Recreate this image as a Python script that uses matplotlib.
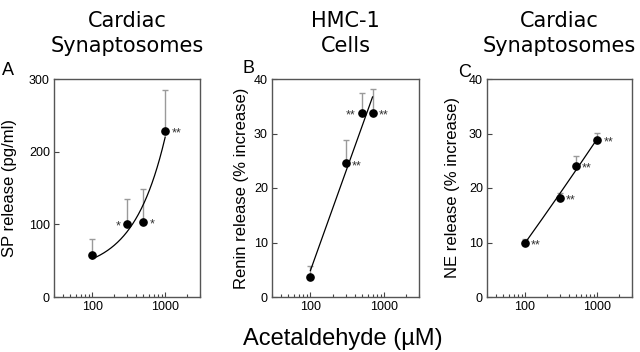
import numpy as np
import matplotlib
matplotlib.use("Agg")
import matplotlib.pyplot as plt
from matplotlib.ticker import LogLocator, NullFormatter, FixedLocator, FixedFormatter

plt.rcParams['font.family'] = ['Liberation Sans', 'DejaVu Sans']

# ---- data ----
conc_A = [100, 300, 500, 1000]
sp_release = [57.8, 100, 102.8, 228.4]
sp_err = [22, 35, 46, 57]
stars_A = ['', '*', '*', '**']
side_A = ['r', 'l', 'r', 'r']

conc_B = [100, 300, 500, 700]
renin_release = [3.7, 24.5, 33.7, 33.7]
renin_err = [1.9, 4.3, 3.8, 4.4]
stars_B = ['', '**', '**', '**']
side_B = ['r', 'r', 'l', 'r']

conc_C = [100, 300, 500, 1000]
ne_release = [10.0, 18.1, 24.1, 28.8]
ne_err = [0.7, 1.0, 1.7, 1.3]
stars_C = ['**', '**', '**', '**']
side_C = ['r', 'r', 'r', 'r']

titles = ["Cardiac\nSynaptosomes", "HMC-1\nCells", "Cardiac\nSynaptosomes"]
letters = ["A", "B", "C"]
ylabels = ["SP release (pg/ml)", "Renin release (% increase)", "NE release (% increase)"]
ylims = [(0, 300), (0, 40), (0, 40)]
yticks = [[0, 100, 200, 300], [0, 10, 20, 30, 40], [0, 10, 20, 30, 40]]
xlabel = "Acetaldehyde (\u00b5M)"

W, H = 640, 352
fig = plt.figure(figsize=(6.4, 3.52), dpi=100)

# axes positions in pixels (left, right)
ax_px = [(54, 200), (272, 419), (487, 632)]
top_px, bot_px = 79, 297
ylabel_x = [-0.253, -0.156, -0.186]

datasets = [
    (conc_A, sp_release, sp_err, stars_A, side_A, 'linx'),
    (conc_B, renin_release, renin_err, stars_B, side_B, 'logl'),
    (conc_C, ne_release, ne_err, stars_C, side_C, 'logq'),
]

spine_col = '#555555'
for i, (l, r) in enumerate(ax_px):
    ax = fig.add_axes([l / W, 1 - bot_px / H, (r - l) / W, (bot_px - top_px) / H])
    x, y, e, st, sd, fit = datasets[i]
    x = np.array(x, float); y = np.array(y, float)
    ax.set_xscale('log')
    ax.set_xlim(30, 3000)
    ax.set_ylim(*ylims[i])
    # fitted curve
    xf = np.logspace(np.log10(x.min()), np.log10(x.max()), 200)
    if fit == 'linx':
        c = np.polyfit(x, y, 1)
        yf = np.polyval(c, xf)
    elif fit == 'logl':
        c = np.polyfit(np.log10(x), y, 1)
        yf = np.polyval(c, np.log10(xf))
    else:
        c = np.polyfit(np.log10(x), y, 2)
        yf = np.polyval(c, np.log10(xf))
    ax.plot(xf, yf, color='black', lw=0.9, zorder=2)
    ax.errorbar(x, y, yerr=[np.zeros_like(y), e], fmt='none', ecolor='#9a9a9a',
                elinewidth=1, capsize=2.2, capthick=1, zorder=1)
    ax.plot(x, y, 'o', color='black', ms=5.2, zorder=3)
    for xi, yi, s, d in zip(x, y, st, sd):
        if not s:
            continue
        off = 4.5 if d == 'r' else -4.5
        ax.annotate(s, xy=(xi, yi), xytext=(off, -1.8), textcoords='offset points',
                    ha='left' if d == 'r' else 'right', va='center', fontsize=9,
                    color='#333333')
    for sp in ax.spines.values():
        sp.set_color(spine_col)
        sp.set_linewidth(1)
    ax.xaxis.set_major_locator(FixedLocator([100, 1000]))
    ax.xaxis.set_major_formatter(FixedFormatter(['100', '1000']))
    ax.xaxis.set_minor_locator(LogLocator(base=10, subs=np.arange(2, 10)))
    ax.xaxis.set_minor_formatter(NullFormatter())
    ax.set_yticks(yticks[i])
    ax.tick_params(axis='both', which='major', direction='in', length=3.5, width=0.8,
                   color='#444444', labelsize=9, pad=3)
    ax.tick_params(axis='x', which='minor', direction='in', length=2, width=0.8,
                   color='#444444')
    ax.tick_params(axis='y', which='minor', left=False)
    ax.set_ylabel(ylabels[i], fontsize=12)
    ax.yaxis.set_label_coords(ylabel_x[i], 0.5)
    cx = (l + r) / 2 / W
    fig.text(cx, 1 - 56 / H, titles[i], ha='center', va='bottom', fontsize=15,
             linespacing=1.3, family=['DejaVu Sans'])

letter_pos = [(2, 62), (242, 60), (458, 64)]
for (lx, ly), t in zip(letter_pos, letters):
    fig.text(lx / W, 1 - ly / H, t, ha='left', va='top', fontsize=13)

fig.text(343 / W, 1 - 345 / H, xlabel, ha='center', va='baseline', fontsize=17)

fig.savefig('out.png', dpi=100)
